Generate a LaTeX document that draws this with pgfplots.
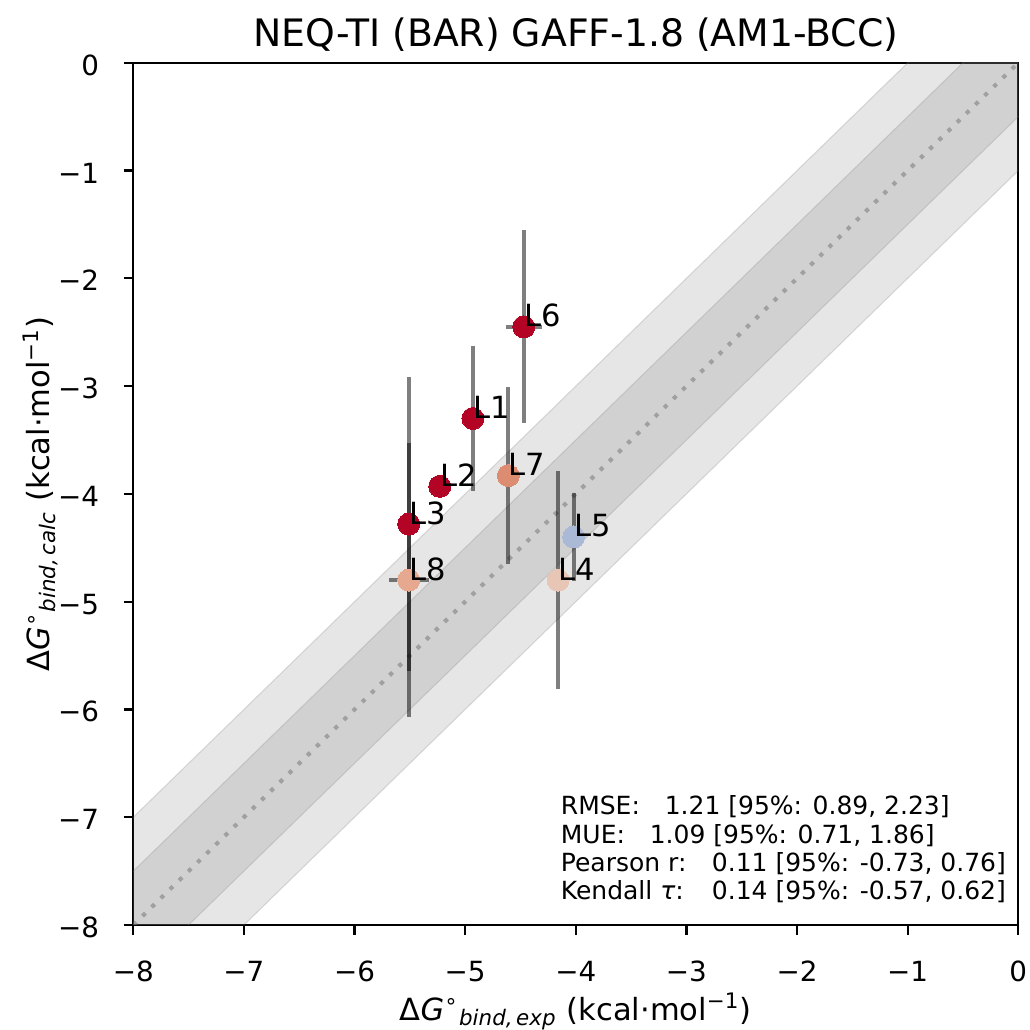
\documentclass[border=0pt]{standalone}
\usepackage{fontspec}
\setmainfont{DejaVu Sans}
\usepackage{pgfplots}
\pgfplotsset{compat=1.18}
\definecolor{cred}{HTML}{B40426}
\definecolor{cL7}{HTML}{DC8C70}
\definecolor{cL8}{HTML}{E6A98F}
\definecolor{cL4}{HTML}{E8C6B5}
\definecolor{cL5}{HTML}{A9B9D6}
\pgfplotsset{
  mk/.style={only marks, mark=*, mark size=3.96pt, color=#1, mark options={draw=#1, fill=#1, line width=0pt}},
  eb/.style={draw=black, draw opacity=0.5, line width=1.44pt, mark=none, forget plot},
}
\begin{document}
\begin{tikzpicture}
\path[use as bounding box] (-47.99pt,-37.8pt) rectangle (322.81pt,333pt);
\begin{axis}[
  name=ax, at={(0,0)}, anchor=south west,
  scale only axis, width=318.6pt, height=310.4pt,
  xmin=-8, xmax=0, ymin=-8, ymax=0,
  axis line style={line width=0.8pt},
  tick align=outside, major tick length=3.5pt,
  every tick/.style={line width=0.8pt, black},
  xtick pos=bottom, ytick pos=left,
  xtick={-8,-7,-6,-5,-4,-3,-2,-1,0},
  ytick={-8,-7,-6,-5,-4,-3,-2,-1,0},
  xticklabels={−8,−7,−6,−5,−4,−3,−2,−1,0},
  yticklabels={−8,−7,−6,−5,−4,−3,−2,−1,0},
  xticklabel style={anchor=base, inner sep=0pt, yshift=-16.8pt, font=\fontsize{10}{12}\selectfont},
  yticklabel style={anchor=base east, inner sep=0pt, xshift=-8.6pt, yshift=-4.5pt, font=\fontsize{10}{12}\selectfont},
]
% bands
\addplot[fill=gray, fill opacity=0.2, draw=gray, draw opacity=0.25, line width=0.4pt]
  coordinates {(-10,-11) (2,1) (2,3) (-10,-9)} -- cycle;
\addplot[fill=gray, fill opacity=0.2, draw=gray, draw opacity=0.25, line width=0.4pt]
  coordinates {(-10,-10.5) (2,1.5) (2,2.5) (-10,-9.5)} -- cycle;
% diagonal
\addplot[color=gray, opacity=0.6, line width=1.5pt, dash pattern=on 1.5pt off 3.1pt]
  coordinates {(-8,-8) (0,0)};
% error bars (vertical)
\addplot[eb] coordinates {(-4.93,-2.63) (-4.93,-3.97)};   % L1
\addplot[eb] coordinates {(-5.51,-2.92) (-5.51,-5.64)};   % L3
\addplot[eb] coordinates {(-4.16,-3.79) (-4.16,-5.81)};   % L4
\addplot[eb] coordinates {(-4.02,-3.99) (-4.02,-4.81)};   % L5
\addplot[eb] coordinates {(-4.47,-1.555) (-4.47,-3.345)}; % L6
\addplot[eb] coordinates {(-4.61,-3.01) (-4.61,-4.65)};   % L7
\addplot[eb] coordinates {(-5.51,-3.53) (-5.51,-6.07)};   % L8
% error bars (horizontal)
\addplot[eb] coordinates {(-4.63,-2.45) (-4.31,-2.45)};   % L6
\addplot[eb] coordinates {(-5.69,-4.80) (-5.33,-4.80)};   % L8
% markers
\addplot[mk=cred] coordinates {(-4.93,-3.30) (-5.23,-3.93) (-5.51,-4.28) (-4.47,-2.45)};
\addplot[mk=cL7] coordinates {(-4.61,-3.83)};
\addplot[mk=cL8] coordinates {(-5.51,-4.80)};
\addplot[mk=cL4] coordinates {(-4.16,-4.80)};
\addplot[mk=cL5] coordinates {(-4.02,-4.40)};
% label anchors
\coordinate (p1) at (axis cs:-4.93,-3.30);
\coordinate (p2) at (axis cs:-5.23,-3.93);
\coordinate (p3) at (axis cs:-5.51,-4.28);
\coordinate (p4) at (axis cs:-4.16,-4.80);
\coordinate (p5) at (axis cs:-4.02,-4.40);
\coordinate (p6) at (axis cs:-4.47,-2.45);
\coordinate (p7) at (axis cs:-4.61,-3.83);
\coordinate (p8) at (axis cs:-5.51,-4.80);
\coordinate (s1) at (axis cs:-4.14,-6.979);
\coordinate (s2) at (axis cs:-4.14,-7.241);
\coordinate (s3) at (axis cs:-4.14,-7.505);
\coordinate (s4) at (axis cs:-4.14,-7.768);
\end{axis}
\begin{scope}[every node/.style={anchor=base west, inner sep=0pt, font=\fontsize{11}{13}\selectfont}]
\node at (p1) {L1};
\node at (p2) {L2};
\node at (p3) {L3};
\node at (p4) {L4};
\node at (p5) {L5};
\node at (p6) {L6};
\node at (p7) {L7};
\node at (p8) {L8};
\end{scope}
\begin{scope}[every node/.style={anchor=base west, inner sep=0pt, font=\fontsize{9}{11}\selectfont}]
\node at (s1) {\makebox[37.4pt][l]{RMSE:}1.21 [95\%: 0.89, 2.23]};
\node at (s2) {\makebox[32pt][l]{MUE:}1.09 [95\%: 0.71, 1.86]};
\node at (s3) {\makebox[54.4pt][l]{Pearson r:}0.11 [95\%: -0.73, 0.76]};
\node at (s4) {\makebox[54.4pt][l]{Kendall \textit{τ}:}0.14 [95\%: -0.57, 0.62]};
\end{scope}
\node[anchor=base, inner sep=0pt, font=\fontsize{13.6}{16}\selectfont] at ([yshift=6pt]ax.north) {NEQ-TI (BAR) GAFF-1.8 (AM1-BCC)};
\node[anchor=base, inner sep=0pt, font=\fontsize{11}{13}\selectfont] at ([yshift=-34.2pt]ax.south)
  {Δ\textit{G}\textsuperscript{∘}\textsubscript{\textit{bind,\,exp}} (kcal·mol\textsuperscript{−1})};
\node[anchor=base, inner sep=0pt, rotate=90, font=\fontsize{11}{13}\selectfont] at ([xshift=-30pt]ax.west)
  {Δ\textit{G}\textsuperscript{∘}\textsubscript{\textit{bind,\,calc}} (kcal·mol\textsuperscript{−1})};
\end{tikzpicture}
\end{document}
